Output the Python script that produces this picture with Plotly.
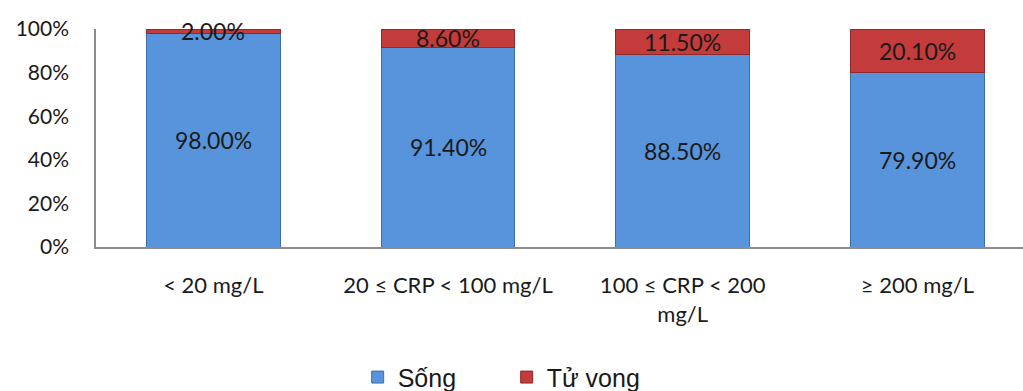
import plotly.graph_objects as go

categories = ["< 20 mg/L", "20 ≤ CRP < 100 mg/L", "100 ≤ CRP < 200<br>mg/L", "≥ 200 mg/L"]
song = [98.0, 91.4, 88.5, 79.9]
tu_vong = [2.0, 8.6, 11.5, 20.1]
y_ticks = [0, 20, 40, 60, 80, 100]
y_tick_labels = ["0%", "20%", "40%", "60%", "80%", "100%"]

blue = "#5894DB"
red = "#C43B3B"
label_font = dict(family="Lato, Open Sans, sans-serif", size=23, color="#1a1a1a")

fig = go.Figure()
fig.add_trace(go.Bar(
    x=categories, y=song, name="Sống", width=0.57,
    marker=dict(color=blue, line=dict(color="#3F6FA8", width=1)),
))
fig.add_trace(go.Bar(
    x=categories, y=tu_vong, name="Tử vong", width=0.57,
    marker=dict(color=red, line=dict(color="#8E2A2A", width=1)),
))

# value labels centred on each stacked segment
for cat, s, t in zip(categories, song, tu_vong):
    fig.add_annotation(x=cat, y=s / 2, text=f"{s:.2f}%", showarrow=False, font=label_font)
    fig.add_annotation(x=cat, y=s + t / 2, text=f"{t:.2f}%", showarrow=False, font=label_font)

fig.update_layout(
    barmode="stack",
    width=1023, height=391,
    margin=dict(l=96, r=0, t=29, b=144, autoexpand=False),
    plot_bgcolor="white", paper_bgcolor="white",
    font=dict(family="Lato, Open Sans, sans-serif", size=21, color="#1a1a1a"),
    showlegend=True,
    legend=dict(
        orientation="h", x=0.443, xanchor="center",
        yref="container", y=0.035, yanchor="middle",
        font=dict(family="Liberation Sans, Arial, sans-serif", size=25, color="#1a1a1a"),
        traceorder="normal", itemwidth=30, entrywidth=104,
    ),
    xaxis=dict(
        range=[-0.5, 3.45], showline=True, linecolor="#8c8c8c", linewidth=1.5,
        ticks="", tickfont=dict(size=22), showgrid=False, automargin=False,
    ),
    yaxis=dict(
        range=[0, 100], tickvals=y_ticks, ticktext=y_tick_labels,
        showline=True, linecolor="#8c8c8c", linewidth=1.5, showgrid=False,
        ticks="", ticklen=0, tickfont=dict(size=21), zeroline=False, automargin=False,
    ),
)
fig.update_xaxes(ticklabelstandoff=18)
fig.update_yaxes(ticklabelstandoff=21)

fig.write_html("out.html")
